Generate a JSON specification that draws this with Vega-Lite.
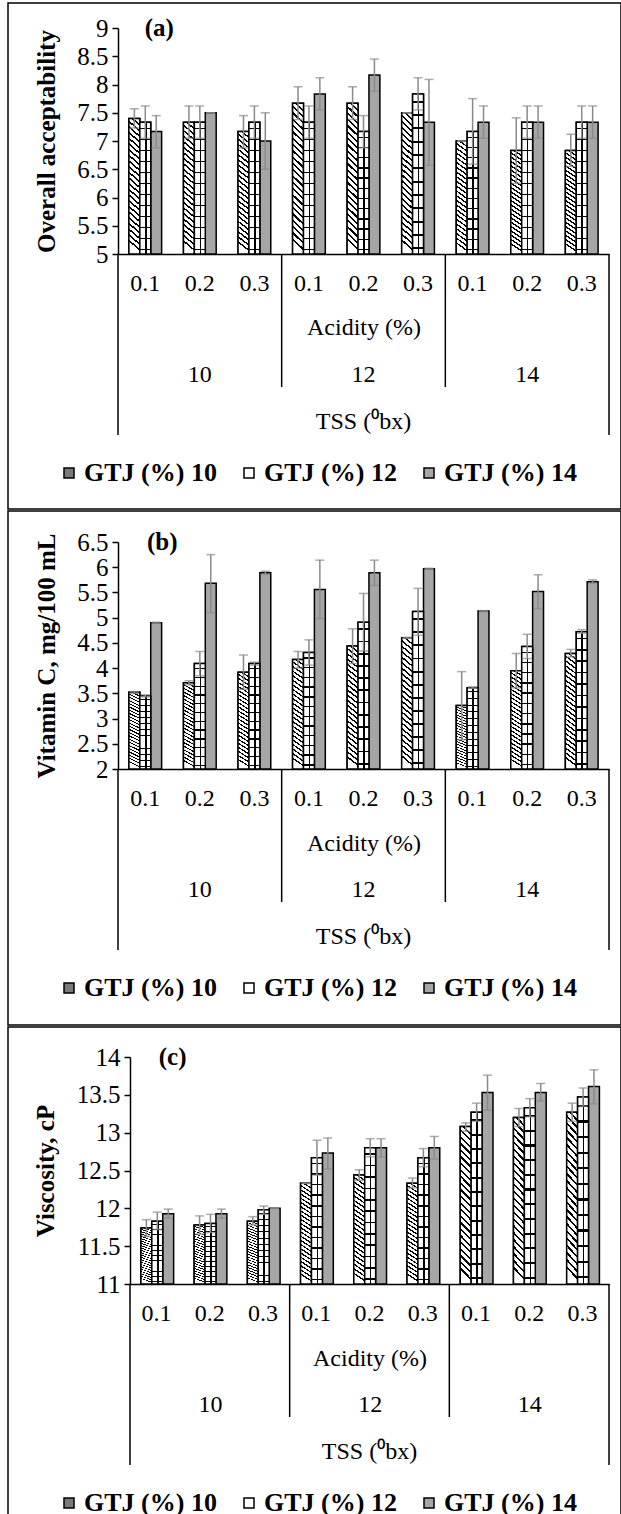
{
"$schema": "https://vega.github.io/schema/vega-lite/v6.json",
"background": "white",
"padding": {"left": 7, "top": 2, "right": 0, "bottom": 0},
"spacing": 0,
"config": {
 "view": {"stroke": "#000", "strokeWidth": 1.5},
 "font": "Liberation Serif",
 "axis": {"labelFont": "Liberation Serif", "labelFontSize": 24, "labelColor": "#000", "titleFont": "Liberation Serif", "titleFontSize": 24, "titleColor": "#000", "titleFontWeight": "normal", "domainColor": "#000", "domainWidth": 1.5, "tickColor": "#000", "tickWidth": 1.5, "grid": false, "labelOverlap": false},
 "legend": {"labelFont": "Liberation Serif", "labelColor": "#000"},
 "text": {"font": "Liberation Serif", "fontSize": 24, "color": "#000", "baseline": "middle"}
},
"datasets": {
 "A": [
{"c":"10-0.1","t":"10","g":"10","v":7.40,"lo":7.23,"hi":7.57},
{"c":"10-0.1","t":"10","g":"12","v":7.33,"lo":7.05,"hi":7.62},
{"c":"10-0.1","t":"10","g":"14","v":7.17,"lo":6.88,"hi":7.45},
{"c":"10-0.2","t":"10","g":"10","v":7.33,"lo":7.05,"hi":7.62},
{"c":"10-0.2","t":"10","g":"12","v":7.33,"lo":7.05,"hi":7.62},
{"c":"10-0.2","t":"10","g":"14","v":7.50,"lo":7.50,"hi":7.50},
{"c":"10-0.3","t":"10","g":"10","v":7.17,"lo":6.88,"hi":7.45},
{"c":"10-0.3","t":"10","g":"12","v":7.33,"lo":7.05,"hi":7.62},
{"c":"10-0.3","t":"10","g":"14","v":7.00,"lo":6.50,"hi":7.50},
{"c":"12-0.1","t":"12","g":"10","v":7.67,"lo":7.38,"hi":7.96},
{"c":"12-0.1","t":"12","g":"12","v":7.33,"lo":7.05,"hi":7.62},
{"c":"12-0.1","t":"12","g":"14","v":7.83,"lo":7.55,"hi":8.12},
{"c":"12-0.2","t":"12","g":"10","v":7.67,"lo":7.38,"hi":7.96},
{"c":"12-0.2","t":"12","g":"12","v":7.17,"lo":6.88,"hi":7.45},
{"c":"12-0.2","t":"12","g":"14","v":8.17,"lo":7.88,"hi":8.45},
{"c":"12-0.3","t":"12","g":"10","v":7.50,"lo":7.50,"hi":7.50},
{"c":"12-0.3","t":"12","g":"12","v":7.83,"lo":7.55,"hi":8.12},
{"c":"12-0.3","t":"12","g":"14","v":7.33,"lo":6.57,"hi":8.09},
{"c":"14-0.1","t":"14","g":"10","v":7.00,"lo":7.00,"hi":7.00},
{"c":"14-0.1","t":"14","g":"12","v":7.17,"lo":6.59,"hi":7.75},
{"c":"14-0.1","t":"14","g":"14","v":7.33,"lo":7.05,"hi":7.62},
{"c":"14-0.2","t":"14","g":"10","v":6.83,"lo":6.25,"hi":7.41},
{"c":"14-0.2","t":"14","g":"12","v":7.33,"lo":7.05,"hi":7.62},
{"c":"14-0.2","t":"14","g":"14","v":7.33,"lo":7.05,"hi":7.62},
{"c":"14-0.3","t":"14","g":"10","v":6.83,"lo":6.55,"hi":7.12},
{"c":"14-0.3","t":"14","g":"12","v":7.33,"lo":7.05,"hi":7.62},
{"c":"14-0.3","t":"14","g":"14","v":7.33,"lo":7.05,"hi":7.62}
 ],
 "B": [
{"c":"10-0.1","t":"10","g":"10","v":3.52,"lo":3.50,"hi":3.53},
{"c":"10-0.1","t":"10","g":"12","v":3.45,"lo":3.43,"hi":3.47},
{"c":"10-0.1","t":"10","g":"14","v":4.90,"lo":4.89,"hi":4.91},
{"c":"10-0.2","t":"10","g":"10","v":3.71,"lo":3.67,"hi":3.75},
{"c":"10-0.2","t":"10","g":"12","v":4.09,"lo":3.85,"hi":4.33},
{"c":"10-0.2","t":"10","g":"14","v":5.68,"lo":5.10,"hi":6.25},
{"c":"10-0.3","t":"10","g":"10","v":3.92,"lo":3.58,"hi":4.26},
{"c":"10-0.3","t":"10","g":"12","v":4.09,"lo":4.06,"hi":4.12},
{"c":"10-0.3","t":"10","g":"14","v":5.89,"lo":5.86,"hi":5.92},
{"c":"12-0.1","t":"12","g":"10","v":4.17,"lo":4.00,"hi":4.33},
{"c":"12-0.1","t":"12","g":"12","v":4.31,"lo":4.06,"hi":4.56},
{"c":"12-0.1","t":"12","g":"14","v":5.56,"lo":4.98,"hi":6.14},
{"c":"12-0.2","t":"12","g":"10","v":4.44,"lo":4.09,"hi":4.78},
{"c":"12-0.2","t":"12","g":"12","v":4.91,"lo":4.34,"hi":5.48},
{"c":"12-0.2","t":"12","g":"14","v":5.89,"lo":5.64,"hi":6.14},
{"c":"12-0.3","t":"12","g":"10","v":4.60,"lo":4.59,"hi":4.61},
{"c":"12-0.3","t":"12","g":"12","v":5.12,"lo":4.65,"hi":5.58},
{"c":"12-0.3","t":"12","g":"14","v":5.97,"lo":5.96,"hi":5.98},
{"c":"14-0.1","t":"14","g":"10","v":3.26,"lo":2.58,"hi":3.93},
{"c":"14-0.1","t":"14","g":"12","v":3.61,"lo":3.60,"hi":3.63},
{"c":"14-0.1","t":"14","g":"14","v":5.13,"lo":5.12,"hi":5.14},
{"c":"14-0.2","t":"14","g":"10","v":3.95,"lo":3.61,"hi":4.29},
{"c":"14-0.2","t":"14","g":"12","v":4.43,"lo":4.19,"hi":4.67},
{"c":"14-0.2","t":"14","g":"14","v":5.52,"lo":5.18,"hi":5.85},
{"c":"14-0.3","t":"14","g":"10","v":4.29,"lo":4.22,"hi":4.37},
{"c":"14-0.3","t":"14","g":"12","v":4.72,"lo":4.69,"hi":4.76},
{"c":"14-0.3","t":"14","g":"14","v":5.71,"lo":5.68,"hi":5.75}
 ],
 "C": [
{"c":"10-0.1","t":"10","g":"10","v":11.74,"lo":11.63,"hi":11.85},
{"c":"10-0.1","t":"10","g":"12","v":11.83,"lo":11.72,"hi":11.95},
{"c":"10-0.1","t":"10","g":"14","v":11.93,"lo":11.87,"hi":11.99},
{"c":"10-0.2","t":"10","g":"10","v":11.78,"lo":11.66,"hi":11.90},
{"c":"10-0.2","t":"10","g":"12","v":11.80,"lo":11.68,"hi":11.92},
{"c":"10-0.2","t":"10","g":"14","v":11.93,"lo":11.87,"hi":11.99},
{"c":"10-0.3","t":"10","g":"10","v":11.83,"lo":11.78,"hi":11.89},
{"c":"10-0.3","t":"10","g":"12","v":11.98,"lo":11.92,"hi":12.03},
{"c":"10-0.3","t":"10","g":"14","v":12.00,"lo":12.00,"hi":12.00},
{"c":"12-0.1","t":"12","g":"10","v":12.33,"lo":12.33,"hi":12.33},
{"c":"12-0.1","t":"12","g":"12","v":12.67,"lo":12.44,"hi":12.90},
{"c":"12-0.1","t":"12","g":"14","v":12.73,"lo":12.52,"hi":12.93},
{"c":"12-0.2","t":"12","g":"10","v":12.44,"lo":12.37,"hi":12.51},
{"c":"12-0.2","t":"12","g":"12","v":12.80,"lo":12.68,"hi":12.92},
{"c":"12-0.2","t":"12","g":"14","v":12.80,"lo":12.68,"hi":12.92},
{"c":"12-0.3","t":"12","g":"10","v":12.33,"lo":12.27,"hi":12.40},
{"c":"12-0.3","t":"12","g":"12","v":12.67,"lo":12.55,"hi":12.79},
{"c":"12-0.3","t":"12","g":"14","v":12.80,"lo":12.65,"hi":12.95},
{"c":"14-0.1","t":"14","g":"10","v":13.08,"lo":13.02,"hi":13.13},
{"c":"14-0.1","t":"14","g":"12","v":13.27,"lo":13.15,"hi":13.39},
{"c":"14-0.1","t":"14","g":"14","v":13.53,"lo":13.30,"hi":13.76},
{"c":"14-0.2","t":"14","g":"10","v":13.20,"lo":13.08,"hi":13.32},
{"c":"14-0.2","t":"14","g":"12","v":13.33,"lo":13.21,"hi":13.45},
{"c":"14-0.2","t":"14","g":"14","v":13.53,"lo":13.42,"hi":13.65},
{"c":"14-0.3","t":"14","g":"10","v":13.27,"lo":13.15,"hi":13.39},
{"c":"14-0.3","t":"14","g":"12","v":13.47,"lo":13.35,"hi":13.59},
{"c":"14-0.3","t":"14","g":"14","v":13.61,"lo":13.38,"hi":13.83}
 ]
},
"resolve": {"scale": {"fill": "independent"}, "legend": {"fill": "independent"}},
"vconcat": [
 {
  "width": 613, "height": 506,
  "data": {"name": "A"},
  "encoding": {
   "x": {"field": "c", "type": "nominal", "scale": {"domain": ["10-0.1","10-0.2","10-0.3","12-0.1","12-0.2","12-0.3","14-0.1","14-0.2","14-0.3"], "range": [110, 601], "paddingInner": 0, "paddingOuter": 0},
    "axis": {"orient": "bottom", "offset": -255, "domain": true, "ticks": false, "labelExpr": "split(datum.label, '-')[1]", "labelPadding": 29.5, "labelBaseline": "middle", "labelAngle": 0, "title": "Acidity (%)", "titleY": 73, "titleBaseline": "middle"}}
  },
  "layer": [
     {"mark": {"type": "bar", "stroke": "#000", "strokeWidth": 1.5},
      "encoding": {
       "xOffset": {"field": "g", "type": "nominal", "scale": {"domain": ["10","12","14"], "paddingInner": 0, "paddingOuter": 1.5}},
       "y": {"field": "v", "type": "quantitative", "title": "Overall acceptability", "scale": {"domain": [5, 9], "range": [251, 25], "nice": false, "zero": false},
        "axis": {"orient": "left", "offset": -110, "values": [5,5.5,6,6.5,7,7.5,8,8.5,9], "format": ".1~f", "tickSize": 6, "labelPadding": 4, "labelFontSize": 25, "labelFlush": false, "labelOverlap": false, "titleFontSize": 25, "titleFontWeight": "bold", "titleX": -72, "titleY": 138, "titleAngle": -90, "titleBaseline": "middle", "titleAlign": "center"}},
       "y2": {"datum": 5},
       "fill": {"field": "g", "type": "nominal", "scale": {"domain": ["10","12","14"], "range": ["#7a7a7a","#ffffff","#a6a6a6"]},
        "legend": {"orient": "none", "legendX": 48, "legendY": 457, "direction": "horizontal", "title": null, "symbolType": "square", "symbolSize": 100, "symbolStrokeColor": "#000", "symbolStrokeWidth": 1.5, "labelFontSize": 26, "labelFontWeight": "bold", "labelExpr": "'GTJ (%) ' + datum.label", "labelOffset": 2, "columnPadding": 19, "labelLimit": 0, "padding": 0}}
      }},
     {"transform": [{"filter": "datum.g == '10'"}], "mark": {"type": "bar", "stroke": "#000", "strokeWidth": 1.5, "fill": {"gradient": "linear", "x1": 1, "y1": 0, "x2": 0.93, "y2": 1, "stops": [
{"offset":0,"color":"#000"},{"offset":0.0146,"color":"#000"},{"offset":0.0146,"color":"#fff"},{"offset":0.0417,"color":"#fff"},
{"offset":0.0417,"color":"#000"},{"offset":0.0563,"color":"#000"},{"offset":0.0563,"color":"#fff"},{"offset":0.0833,"color":"#fff"},
{"offset":0.0833,"color":"#000"},{"offset":0.0979,"color":"#000"},{"offset":0.0979,"color":"#fff"},{"offset":0.125,"color":"#fff"},
{"offset":0.125,"color":"#000"},{"offset":0.1396,"color":"#000"},{"offset":0.1396,"color":"#fff"},{"offset":0.1667,"color":"#fff"},
{"offset":0.1667,"color":"#000"},{"offset":0.1813,"color":"#000"},{"offset":0.1813,"color":"#fff"},{"offset":0.2083,"color":"#fff"},
{"offset":0.2083,"color":"#000"},{"offset":0.2229,"color":"#000"},{"offset":0.2229,"color":"#fff"},{"offset":0.25,"color":"#fff"},
{"offset":0.25,"color":"#000"},{"offset":0.2646,"color":"#000"},{"offset":0.2646,"color":"#fff"},{"offset":0.2917,"color":"#fff"},
{"offset":0.2917,"color":"#000"},{"offset":0.3063,"color":"#000"},{"offset":0.3063,"color":"#fff"},{"offset":0.3333,"color":"#fff"},
{"offset":0.3333,"color":"#000"},{"offset":0.3479,"color":"#000"},{"offset":0.3479,"color":"#fff"},{"offset":0.375,"color":"#fff"},
{"offset":0.375,"color":"#000"},{"offset":0.3896,"color":"#000"},{"offset":0.3896,"color":"#fff"},{"offset":0.4167,"color":"#fff"},
{"offset":0.4167,"color":"#000"},{"offset":0.4313,"color":"#000"},{"offset":0.4313,"color":"#fff"},{"offset":0.4583,"color":"#fff"},
{"offset":0.4583,"color":"#000"},{"offset":0.4729,"color":"#000"},{"offset":0.4729,"color":"#fff"},{"offset":0.5,"color":"#fff"},
{"offset":0.5,"color":"#000"},{"offset":0.5146,"color":"#000"},{"offset":0.5146,"color":"#fff"},{"offset":0.5417,"color":"#fff"},
{"offset":0.5417,"color":"#000"},{"offset":0.5563,"color":"#000"},{"offset":0.5563,"color":"#fff"},{"offset":0.5833,"color":"#fff"},
{"offset":0.5833,"color":"#000"},{"offset":0.5979,"color":"#000"},{"offset":0.5979,"color":"#fff"},{"offset":0.625,"color":"#fff"},
{"offset":0.625,"color":"#000"},{"offset":0.6396,"color":"#000"},{"offset":0.6396,"color":"#fff"},{"offset":0.6667,"color":"#fff"},
{"offset":0.6667,"color":"#000"},{"offset":0.6813,"color":"#000"},{"offset":0.6813,"color":"#fff"},{"offset":0.7083,"color":"#fff"},
{"offset":0.7083,"color":"#000"},{"offset":0.7229,"color":"#000"},{"offset":0.7229,"color":"#fff"},{"offset":0.75,"color":"#fff"},
{"offset":0.75,"color":"#000"},{"offset":0.7646,"color":"#000"},{"offset":0.7646,"color":"#fff"},{"offset":0.7917,"color":"#fff"},
{"offset":0.7917,"color":"#000"},{"offset":0.8063,"color":"#000"},{"offset":0.8063,"color":"#fff"},{"offset":0.8333,"color":"#fff"},
{"offset":0.8333,"color":"#000"},{"offset":0.8479,"color":"#000"},{"offset":0.8479,"color":"#fff"},{"offset":0.875,"color":"#fff"},
{"offset":0.875,"color":"#000"},{"offset":0.8896,"color":"#000"},{"offset":0.8896,"color":"#fff"},{"offset":0.9167,"color":"#fff"},
{"offset":0.9167,"color":"#000"},{"offset":0.9313,"color":"#000"},{"offset":0.9313,"color":"#fff"},{"offset":0.9583,"color":"#fff"},
{"offset":0.9583,"color":"#000"},{"offset":0.9729,"color":"#000"},{"offset":0.9729,"color":"#fff"},{"offset":1,"color":"#fff"}
      ]}},
      "encoding": {"xOffset": {"field": "g", "type": "nominal"}, "y": {"field": "v", "type": "quantitative", "title": "Overall acceptability"}, "y2": {"datum": 5}}},
     {"transform": [{"filter": "datum.g == '12'"}], "mark": {"type": "bar", "stroke": "#000", "strokeWidth": 1.5, "fill": {"gradient": "linear", "x1": 0, "y1": 0, "x2": 0, "y2": 1, "stops": [
{"offset":0,"color":"#fff"},
{"offset":0.0417,"color":"#fff"},{"offset":0.0417,"color":"#000"},{"offset":0.0537,"color":"#000"},{"offset":0.0537,"color":"#fff"},
{"offset":0.125,"color":"#fff"},{"offset":0.125,"color":"#000"},{"offset":0.137,"color":"#000"},{"offset":0.137,"color":"#fff"},
{"offset":0.2083,"color":"#fff"},{"offset":0.2083,"color":"#000"},{"offset":0.2203,"color":"#000"},{"offset":0.2203,"color":"#fff"},
{"offset":0.2917,"color":"#fff"},{"offset":0.2917,"color":"#000"},{"offset":0.3037,"color":"#000"},{"offset":0.3037,"color":"#fff"},
{"offset":0.375,"color":"#fff"},{"offset":0.375,"color":"#000"},{"offset":0.387,"color":"#000"},{"offset":0.387,"color":"#fff"},
{"offset":0.4583,"color":"#fff"},{"offset":0.4583,"color":"#000"},{"offset":0.4703,"color":"#000"},{"offset":0.4703,"color":"#fff"},
{"offset":0.5417,"color":"#fff"},{"offset":0.5417,"color":"#000"},{"offset":0.5537,"color":"#000"},{"offset":0.5537,"color":"#fff"},
{"offset":0.625,"color":"#fff"},{"offset":0.625,"color":"#000"},{"offset":0.637,"color":"#000"},{"offset":0.637,"color":"#fff"},
{"offset":0.7083,"color":"#fff"},{"offset":0.7083,"color":"#000"},{"offset":0.7203,"color":"#000"},{"offset":0.7203,"color":"#fff"},
{"offset":0.7917,"color":"#fff"},{"offset":0.7917,"color":"#000"},{"offset":0.8037,"color":"#000"},{"offset":0.8037,"color":"#fff"},
{"offset":0.875,"color":"#fff"},{"offset":0.875,"color":"#000"},{"offset":0.887,"color":"#000"},{"offset":0.887,"color":"#fff"},
{"offset":0.9583,"color":"#fff"},{"offset":0.9583,"color":"#000"},{"offset":0.9703,"color":"#000"},{"offset":0.9703,"color":"#fff"},
{"offset":1,"color":"#fff"}
      ]}},
      "encoding": {"xOffset": {"field": "g", "type": "nominal"}, "y": {"field": "v", "type": "quantitative", "title": "Overall acceptability"}, "y2": {"datum": 5}}},
     {"transform": [{"filter": "datum.g == '12'"}], "mark": {"type": "bar", "fill": {"gradient": "linear", "x1": 0, "y1": 0, "x2": 1, "y2": 0, "stops": [
{"offset":0,"color":"rgba(0,0,0,0)"},{"offset":0.47,"color":"rgba(0,0,0,0)"},{"offset":0.47,"color":"#000"},{"offset":0.62,"color":"#000"},{"offset":0.62,"color":"rgba(0,0,0,0)"},{"offset":1,"color":"rgba(0,0,0,0)"}
      ]}},
      "encoding": {"xOffset": {"field": "g", "type": "nominal"}, "y": {"field": "v", "type": "quantitative", "title": "Overall acceptability"}, "y2": {"datum": 5}}},
     {"mark": {"type": "rule", "color": "#8a8a8a", "strokeWidth": 1.5},
      "encoding": {"xOffset": {"field": "g", "type": "nominal"}, "y": {"field": "lo", "type": "quantitative", "title": "Overall acceptability"}, "y2": {"field": "hi"}}},
     {"mark": {"type": "tick", "orient": "horizontal", "size": 9, "thickness": 1.5, "color": "#8a8a8a"},
      "encoding": {"xOffset": {"field": "g", "type": "nominal"}, "y": {"field": "lo", "type": "quantitative", "title": "Overall acceptability"}}},
     {"mark": {"type": "tick", "orient": "horizontal", "size": 9, "thickness": 1.5, "color": "#8a8a8a"},
      "encoding": {"xOffset": {"field": "g", "type": "nominal"}, "y": {"field": "hi", "type": "quantitative", "title": "Overall acceptability"}}},
     {"transform": [{"filter": "datum.g == '10' && (datum.c == '12-0.1' || datum.c == '14-0.1')"}], "mark": {"type": "rule", "color": "#000", "strokeWidth": 1.5, "y2Offset": 133},
      "encoding": {"x": {"field": "c", "type": "nominal", "bandPosition": 0}, "y": {"datum": 5}, "y2": {"datum": 5}}},
     {"transform": [{"filter": "datum.g == '10' && datum.c == '10-0.1'"}], "mark": {"type": "rule", "color": "#000", "strokeWidth": 1.5, "y2Offset": 181},
      "encoding": {"x": {"field": "c", "type": "nominal", "bandPosition": 0}, "y": {"datum": 5}, "y2": {"datum": 5}}},
     {"transform": [{"filter": "datum.g == '10' && datum.c == '14-0.3'"}], "mark": {"type": "rule", "color": "#000", "strokeWidth": 1.5, "y2Offset": 181},
      "encoding": {"x": {"field": "c", "type": "nominal", "bandPosition": 1}, "y": {"datum": 5}, "y2": {"datum": 5}}},
     {"transform": [{"filter": "datum.g == '12' && indexof(datum.c, '-0.2') > 0"}], "mark": {"type": "text", "dy": 121},
      "encoding": {"xOffset": {"field": "g", "type": "nominal"}, "y": {"datum": 5}, "text": {"field": "t"}}},
     {"data": {"values": [{"s": "TSS (⁰bx)"}]}, "mark": {"type": "text", "dy": 168},
      "encoding": {"x": {"datum": "12-0.2"}, "y": {"datum": 5}, "text": {"field": "s"}}},
     {"data": {"values": [{"s": "(a)"}]}, "mark": {"type": "text", "dx": 14, "fontSize": 25, "fontWeight": "bold"},
      "encoding": {"x": {"datum": "10-0.1"}, "y": {"datum": 9}, "text": {"field": "s"}}}
  ]
 },
 {
  "width": 613, "height": 514,
  "data": {"name": "B"},
  "encoding": {
   "x": {"field": "c", "type": "nominal", "scale": {"domain": ["10-0.1","10-0.2","10-0.3","12-0.1","12-0.2","12-0.3","14-0.1","14-0.2","14-0.3"], "range": [110, 601], "paddingInner": 0, "paddingOuter": 0},
    "axis": {"orient": "bottom", "offset": -256, "domain": true, "ticks": false, "labelExpr": "split(datum.label, '-')[1]", "labelPadding": 29.5, "labelBaseline": "middle", "labelAngle": 0, "title": "Acidity (%)", "titleY": 74, "titleBaseline": "middle"}}
  },
  "layer": [
     {"mark": {"type": "bar", "stroke": "#000", "strokeWidth": 1.5},
      "encoding": {
       "xOffset": {"field": "g", "type": "nominal", "scale": {"domain": ["10","12","14"], "paddingInner": 0, "paddingOuter": 1.5}},
       "y": {"field": "v", "type": "quantitative", "title": "Vitamin  C, mg/100 mL", "scale": {"domain": [2, 6.5], "range": [258, 31], "nice": false, "zero": false},
        "axis": {"orient": "left", "offset": -110, "values": [2,2.5,3,3.5,4,4.5,5,5.5,6,6.5], "format": ".1~f", "tickSize": 6, "labelPadding": 4, "labelFontSize": 25, "labelFlush": false, "labelOverlap": false, "titleFontSize": 25, "titleFontWeight": "bold", "titleX": -72, "titleY": 144.5, "titleAngle": -90, "titleBaseline": "middle", "titleAlign": "center"}},
       "y2": {"datum": 2},
       "fill": {"field": "g", "type": "nominal", "scale": {"domain": ["10","12","14"], "range": ["#7a7a7a","#ffffff","#a6a6a6"]},
        "legend": {"orient": "none", "legendX": 48, "legendY": 464, "direction": "horizontal", "title": null, "symbolType": "square", "symbolSize": 100, "symbolStrokeColor": "#000", "symbolStrokeWidth": 1.5, "labelFontSize": 26, "labelFontWeight": "bold", "labelExpr": "'GTJ (%) ' + datum.label", "labelOffset": 2, "columnPadding": 19, "labelLimit": 0, "padding": 0}}
      }},
     {"transform": [{"filter": "datum.g == '10'"}], "mark": {"type": "bar", "stroke": "#000", "strokeWidth": 1.5, "fill": {"gradient": "linear", "x1": 1, "y1": 0, "x2": 0.93, "y2": 1, "stops": [
{"offset":0,"color":"#000"},{"offset":0.0146,"color":"#000"},{"offset":0.0146,"color":"#fff"},{"offset":0.0417,"color":"#fff"},
{"offset":0.0417,"color":"#000"},{"offset":0.0563,"color":"#000"},{"offset":0.0563,"color":"#fff"},{"offset":0.0833,"color":"#fff"},
{"offset":0.0833,"color":"#000"},{"offset":0.0979,"color":"#000"},{"offset":0.0979,"color":"#fff"},{"offset":0.125,"color":"#fff"},
{"offset":0.125,"color":"#000"},{"offset":0.1396,"color":"#000"},{"offset":0.1396,"color":"#fff"},{"offset":0.1667,"color":"#fff"},
{"offset":0.1667,"color":"#000"},{"offset":0.1813,"color":"#000"},{"offset":0.1813,"color":"#fff"},{"offset":0.2083,"color":"#fff"},
{"offset":0.2083,"color":"#000"},{"offset":0.2229,"color":"#000"},{"offset":0.2229,"color":"#fff"},{"offset":0.25,"color":"#fff"},
{"offset":0.25,"color":"#000"},{"offset":0.2646,"color":"#000"},{"offset":0.2646,"color":"#fff"},{"offset":0.2917,"color":"#fff"},
{"offset":0.2917,"color":"#000"},{"offset":0.3063,"color":"#000"},{"offset":0.3063,"color":"#fff"},{"offset":0.3333,"color":"#fff"},
{"offset":0.3333,"color":"#000"},{"offset":0.3479,"color":"#000"},{"offset":0.3479,"color":"#fff"},{"offset":0.375,"color":"#fff"},
{"offset":0.375,"color":"#000"},{"offset":0.3896,"color":"#000"},{"offset":0.3896,"color":"#fff"},{"offset":0.4167,"color":"#fff"},
{"offset":0.4167,"color":"#000"},{"offset":0.4313,"color":"#000"},{"offset":0.4313,"color":"#fff"},{"offset":0.4583,"color":"#fff"},
{"offset":0.4583,"color":"#000"},{"offset":0.4729,"color":"#000"},{"offset":0.4729,"color":"#fff"},{"offset":0.5,"color":"#fff"},
{"offset":0.5,"color":"#000"},{"offset":0.5146,"color":"#000"},{"offset":0.5146,"color":"#fff"},{"offset":0.5417,"color":"#fff"},
{"offset":0.5417,"color":"#000"},{"offset":0.5563,"color":"#000"},{"offset":0.5563,"color":"#fff"},{"offset":0.5833,"color":"#fff"},
{"offset":0.5833,"color":"#000"},{"offset":0.5979,"color":"#000"},{"offset":0.5979,"color":"#fff"},{"offset":0.625,"color":"#fff"},
{"offset":0.625,"color":"#000"},{"offset":0.6396,"color":"#000"},{"offset":0.6396,"color":"#fff"},{"offset":0.6667,"color":"#fff"},
{"offset":0.6667,"color":"#000"},{"offset":0.6813,"color":"#000"},{"offset":0.6813,"color":"#fff"},{"offset":0.7083,"color":"#fff"},
{"offset":0.7083,"color":"#000"},{"offset":0.7229,"color":"#000"},{"offset":0.7229,"color":"#fff"},{"offset":0.75,"color":"#fff"},
{"offset":0.75,"color":"#000"},{"offset":0.7646,"color":"#000"},{"offset":0.7646,"color":"#fff"},{"offset":0.7917,"color":"#fff"},
{"offset":0.7917,"color":"#000"},{"offset":0.8063,"color":"#000"},{"offset":0.8063,"color":"#fff"},{"offset":0.8333,"color":"#fff"},
{"offset":0.8333,"color":"#000"},{"offset":0.8479,"color":"#000"},{"offset":0.8479,"color":"#fff"},{"offset":0.875,"color":"#fff"},
{"offset":0.875,"color":"#000"},{"offset":0.8896,"color":"#000"},{"offset":0.8896,"color":"#fff"},{"offset":0.9167,"color":"#fff"},
{"offset":0.9167,"color":"#000"},{"offset":0.9313,"color":"#000"},{"offset":0.9313,"color":"#fff"},{"offset":0.9583,"color":"#fff"},
{"offset":0.9583,"color":"#000"},{"offset":0.9729,"color":"#000"},{"offset":0.9729,"color":"#fff"},{"offset":1,"color":"#fff"}
      ]}},
      "encoding": {"xOffset": {"field": "g", "type": "nominal"}, "y": {"field": "v", "type": "quantitative", "title": "Vitamin  C, mg/100 mL"}, "y2": {"datum": 2}}},
     {"transform": [{"filter": "datum.g == '12'"}], "mark": {"type": "bar", "stroke": "#000", "strokeWidth": 1.5, "fill": {"gradient": "linear", "x1": 0, "y1": 0, "x2": 0, "y2": 1, "stops": [
{"offset":0,"color":"#fff"},
{"offset":0.0417,"color":"#fff"},{"offset":0.0417,"color":"#000"},{"offset":0.0537,"color":"#000"},{"offset":0.0537,"color":"#fff"},
{"offset":0.125,"color":"#fff"},{"offset":0.125,"color":"#000"},{"offset":0.137,"color":"#000"},{"offset":0.137,"color":"#fff"},
{"offset":0.2083,"color":"#fff"},{"offset":0.2083,"color":"#000"},{"offset":0.2203,"color":"#000"},{"offset":0.2203,"color":"#fff"},
{"offset":0.2917,"color":"#fff"},{"offset":0.2917,"color":"#000"},{"offset":0.3037,"color":"#000"},{"offset":0.3037,"color":"#fff"},
{"offset":0.375,"color":"#fff"},{"offset":0.375,"color":"#000"},{"offset":0.387,"color":"#000"},{"offset":0.387,"color":"#fff"},
{"offset":0.4583,"color":"#fff"},{"offset":0.4583,"color":"#000"},{"offset":0.4703,"color":"#000"},{"offset":0.4703,"color":"#fff"},
{"offset":0.5417,"color":"#fff"},{"offset":0.5417,"color":"#000"},{"offset":0.5537,"color":"#000"},{"offset":0.5537,"color":"#fff"},
{"offset":0.625,"color":"#fff"},{"offset":0.625,"color":"#000"},{"offset":0.637,"color":"#000"},{"offset":0.637,"color":"#fff"},
{"offset":0.7083,"color":"#fff"},{"offset":0.7083,"color":"#000"},{"offset":0.7203,"color":"#000"},{"offset":0.7203,"color":"#fff"},
{"offset":0.7917,"color":"#fff"},{"offset":0.7917,"color":"#000"},{"offset":0.8037,"color":"#000"},{"offset":0.8037,"color":"#fff"},
{"offset":0.875,"color":"#fff"},{"offset":0.875,"color":"#000"},{"offset":0.887,"color":"#000"},{"offset":0.887,"color":"#fff"},
{"offset":0.9583,"color":"#fff"},{"offset":0.9583,"color":"#000"},{"offset":0.9703,"color":"#000"},{"offset":0.9703,"color":"#fff"},
{"offset":1,"color":"#fff"}
      ]}},
      "encoding": {"xOffset": {"field": "g", "type": "nominal"}, "y": {"field": "v", "type": "quantitative", "title": "Vitamin  C, mg/100 mL"}, "y2": {"datum": 2}}},
     {"transform": [{"filter": "datum.g == '12'"}], "mark": {"type": "bar", "fill": {"gradient": "linear", "x1": 0, "y1": 0, "x2": 1, "y2": 0, "stops": [
{"offset":0,"color":"rgba(0,0,0,0)"},{"offset":0.47,"color":"rgba(0,0,0,0)"},{"offset":0.47,"color":"#000"},{"offset":0.62,"color":"#000"},{"offset":0.62,"color":"rgba(0,0,0,0)"},{"offset":1,"color":"rgba(0,0,0,0)"}
      ]}},
      "encoding": {"xOffset": {"field": "g", "type": "nominal"}, "y": {"field": "v", "type": "quantitative", "title": "Vitamin  C, mg/100 mL"}, "y2": {"datum": 2}}},
     {"mark": {"type": "rule", "color": "#8a8a8a", "strokeWidth": 1.5},
      "encoding": {"xOffset": {"field": "g", "type": "nominal"}, "y": {"field": "lo", "type": "quantitative", "title": "Vitamin  C, mg/100 mL"}, "y2": {"field": "hi"}}},
     {"mark": {"type": "tick", "orient": "horizontal", "size": 9, "thickness": 1.5, "color": "#8a8a8a"},
      "encoding": {"xOffset": {"field": "g", "type": "nominal"}, "y": {"field": "lo", "type": "quantitative", "title": "Vitamin  C, mg/100 mL"}}},
     {"mark": {"type": "tick", "orient": "horizontal", "size": 9, "thickness": 1.5, "color": "#8a8a8a"},
      "encoding": {"xOffset": {"field": "g", "type": "nominal"}, "y": {"field": "hi", "type": "quantitative", "title": "Vitamin  C, mg/100 mL"}}},
     {"transform": [{"filter": "datum.g == '10' && (datum.c == '12-0.1' || datum.c == '14-0.1')"}], "mark": {"type": "rule", "color": "#000", "strokeWidth": 1.5, "y2Offset": 133},
      "encoding": {"x": {"field": "c", "type": "nominal", "bandPosition": 0}, "y": {"datum": 2}, "y2": {"datum": 2}}},
     {"transform": [{"filter": "datum.g == '10' && datum.c == '10-0.1'"}], "mark": {"type": "rule", "color": "#000", "strokeWidth": 1.5, "y2Offset": 181},
      "encoding": {"x": {"field": "c", "type": "nominal", "bandPosition": 0}, "y": {"datum": 2}, "y2": {"datum": 2}}},
     {"transform": [{"filter": "datum.g == '10' && datum.c == '14-0.3'"}], "mark": {"type": "rule", "color": "#000", "strokeWidth": 1.5, "y2Offset": 181},
      "encoding": {"x": {"field": "c", "type": "nominal", "bandPosition": 1}, "y": {"datum": 2}, "y2": {"datum": 2}}},
     {"transform": [{"filter": "datum.g == '12' && indexof(datum.c, '-0.2') > 0"}], "mark": {"type": "text", "dy": 121},
      "encoding": {"xOffset": {"field": "g", "type": "nominal"}, "y": {"datum": 2}, "text": {"field": "t"}}},
     {"data": {"values": [{"s": "TSS (⁰bx)"}]}, "mark": {"type": "text", "dy": 168},
      "encoding": {"x": {"datum": "12-0.2"}, "y": {"datum": 2}, "text": {"field": "s"}}},
     {"data": {"values": [{"s": "(b)"}]}, "mark": {"type": "text", "dx": 17, "fontSize": 25, "fontWeight": "bold"},
      "encoding": {"x": {"datum": "10-0.1"}, "y": {"datum": 6.5}, "text": {"field": "s"}}}
  ]
 },
 {
  "width": 613, "height": 514,
  "data": {"name": "C"},
  "encoding": {
   "x": {"field": "c", "type": "nominal", "scale": {"domain": ["10-0.1","10-0.2","10-0.3","12-0.1","12-0.2","12-0.3","14-0.1","14-0.2","14-0.3"], "range": [122, 601], "paddingInner": 0, "paddingOuter": 0},
    "axis": {"orient": "bottom", "offset": -257, "domain": true, "ticks": false, "labelExpr": "split(datum.label, '-')[1]", "labelPadding": 29.5, "labelBaseline": "middle", "labelAngle": 0, "title": "Acidity (%)", "titleY": 74, "titleBaseline": "middle"}}
  },
  "layer": [
     {"mark": {"type": "bar", "stroke": "#000", "strokeWidth": 1.5},
      "encoding": {
       "xOffset": {"field": "g", "type": "nominal", "scale": {"domain": ["10","12","14"], "paddingInner": 0, "paddingOuter": 1.5}},
       "y": {"field": "v", "type": "quantitative", "title": "Viscosity, cP", "scale": {"domain": [11, 14], "range": [257, 30], "nice": false, "zero": false},
        "axis": {"orient": "left", "offset": -122, "values": [11,11.5,12,12.5,13,13.5,14], "format": ".1~f", "tickSize": 6, "labelPadding": 4, "labelFontSize": 25, "labelFlush": false, "labelOverlap": false, "titleFontSize": 25, "titleFontWeight": "bold", "titleX": -85, "titleY": 143.5, "titleAngle": -90, "titleBaseline": "middle", "titleAlign": "center"}},
       "y2": {"datum": 11},
       "fill": {"field": "g", "type": "nominal", "scale": {"domain": ["10","12","14"], "range": ["#7a7a7a","#ffffff","#a6a6a6"]},
        "legend": {"orient": "none", "legendX": 48, "legendY": 463, "direction": "horizontal", "title": null, "symbolType": "square", "symbolSize": 100, "symbolStrokeColor": "#000", "symbolStrokeWidth": 1.5, "labelFontSize": 26, "labelFontWeight": "bold", "labelExpr": "'GTJ (%) ' + datum.label", "labelOffset": 2, "columnPadding": 19, "labelLimit": 0, "padding": 0}}
      }},
     {"transform": [{"filter": "datum.g == '10'"}], "mark": {"type": "bar", "stroke": "#000", "strokeWidth": 1.5, "fill": {"gradient": "linear", "x1": 1, "y1": 0, "x2": 0.93, "y2": 1, "stops": [
{"offset":0,"color":"#000"},{"offset":0.0146,"color":"#000"},{"offset":0.0146,"color":"#fff"},{"offset":0.0417,"color":"#fff"},
{"offset":0.0417,"color":"#000"},{"offset":0.0563,"color":"#000"},{"offset":0.0563,"color":"#fff"},{"offset":0.0833,"color":"#fff"},
{"offset":0.0833,"color":"#000"},{"offset":0.0979,"color":"#000"},{"offset":0.0979,"color":"#fff"},{"offset":0.125,"color":"#fff"},
{"offset":0.125,"color":"#000"},{"offset":0.1396,"color":"#000"},{"offset":0.1396,"color":"#fff"},{"offset":0.1667,"color":"#fff"},
{"offset":0.1667,"color":"#000"},{"offset":0.1813,"color":"#000"},{"offset":0.1813,"color":"#fff"},{"offset":0.2083,"color":"#fff"},
{"offset":0.2083,"color":"#000"},{"offset":0.2229,"color":"#000"},{"offset":0.2229,"color":"#fff"},{"offset":0.25,"color":"#fff"},
{"offset":0.25,"color":"#000"},{"offset":0.2646,"color":"#000"},{"offset":0.2646,"color":"#fff"},{"offset":0.2917,"color":"#fff"},
{"offset":0.2917,"color":"#000"},{"offset":0.3063,"color":"#000"},{"offset":0.3063,"color":"#fff"},{"offset":0.3333,"color":"#fff"},
{"offset":0.3333,"color":"#000"},{"offset":0.3479,"color":"#000"},{"offset":0.3479,"color":"#fff"},{"offset":0.375,"color":"#fff"},
{"offset":0.375,"color":"#000"},{"offset":0.3896,"color":"#000"},{"offset":0.3896,"color":"#fff"},{"offset":0.4167,"color":"#fff"},
{"offset":0.4167,"color":"#000"},{"offset":0.4313,"color":"#000"},{"offset":0.4313,"color":"#fff"},{"offset":0.4583,"color":"#fff"},
{"offset":0.4583,"color":"#000"},{"offset":0.4729,"color":"#000"},{"offset":0.4729,"color":"#fff"},{"offset":0.5,"color":"#fff"},
{"offset":0.5,"color":"#000"},{"offset":0.5146,"color":"#000"},{"offset":0.5146,"color":"#fff"},{"offset":0.5417,"color":"#fff"},
{"offset":0.5417,"color":"#000"},{"offset":0.5563,"color":"#000"},{"offset":0.5563,"color":"#fff"},{"offset":0.5833,"color":"#fff"},
{"offset":0.5833,"color":"#000"},{"offset":0.5979,"color":"#000"},{"offset":0.5979,"color":"#fff"},{"offset":0.625,"color":"#fff"},
{"offset":0.625,"color":"#000"},{"offset":0.6396,"color":"#000"},{"offset":0.6396,"color":"#fff"},{"offset":0.6667,"color":"#fff"},
{"offset":0.6667,"color":"#000"},{"offset":0.6813,"color":"#000"},{"offset":0.6813,"color":"#fff"},{"offset":0.7083,"color":"#fff"},
{"offset":0.7083,"color":"#000"},{"offset":0.7229,"color":"#000"},{"offset":0.7229,"color":"#fff"},{"offset":0.75,"color":"#fff"},
{"offset":0.75,"color":"#000"},{"offset":0.7646,"color":"#000"},{"offset":0.7646,"color":"#fff"},{"offset":0.7917,"color":"#fff"},
{"offset":0.7917,"color":"#000"},{"offset":0.8063,"color":"#000"},{"offset":0.8063,"color":"#fff"},{"offset":0.8333,"color":"#fff"},
{"offset":0.8333,"color":"#000"},{"offset":0.8479,"color":"#000"},{"offset":0.8479,"color":"#fff"},{"offset":0.875,"color":"#fff"},
{"offset":0.875,"color":"#000"},{"offset":0.8896,"color":"#000"},{"offset":0.8896,"color":"#fff"},{"offset":0.9167,"color":"#fff"},
{"offset":0.9167,"color":"#000"},{"offset":0.9313,"color":"#000"},{"offset":0.9313,"color":"#fff"},{"offset":0.9583,"color":"#fff"},
{"offset":0.9583,"color":"#000"},{"offset":0.9729,"color":"#000"},{"offset":0.9729,"color":"#fff"},{"offset":1,"color":"#fff"}
      ]}},
      "encoding": {"xOffset": {"field": "g", "type": "nominal"}, "y": {"field": "v", "type": "quantitative", "title": "Viscosity, cP"}, "y2": {"datum": 11}}},
     {"transform": [{"filter": "datum.g == '12'"}], "mark": {"type": "bar", "stroke": "#000", "strokeWidth": 1.5, "fill": {"gradient": "linear", "x1": 0, "y1": 0, "x2": 0, "y2": 1, "stops": [
{"offset":0,"color":"#fff"},
{"offset":0.0417,"color":"#fff"},{"offset":0.0417,"color":"#000"},{"offset":0.0537,"color":"#000"},{"offset":0.0537,"color":"#fff"},
{"offset":0.125,"color":"#fff"},{"offset":0.125,"color":"#000"},{"offset":0.137,"color":"#000"},{"offset":0.137,"color":"#fff"},
{"offset":0.2083,"color":"#fff"},{"offset":0.2083,"color":"#000"},{"offset":0.2203,"color":"#000"},{"offset":0.2203,"color":"#fff"},
{"offset":0.2917,"color":"#fff"},{"offset":0.2917,"color":"#000"},{"offset":0.3037,"color":"#000"},{"offset":0.3037,"color":"#fff"},
{"offset":0.375,"color":"#fff"},{"offset":0.375,"color":"#000"},{"offset":0.387,"color":"#000"},{"offset":0.387,"color":"#fff"},
{"offset":0.4583,"color":"#fff"},{"offset":0.4583,"color":"#000"},{"offset":0.4703,"color":"#000"},{"offset":0.4703,"color":"#fff"},
{"offset":0.5417,"color":"#fff"},{"offset":0.5417,"color":"#000"},{"offset":0.5537,"color":"#000"},{"offset":0.5537,"color":"#fff"},
{"offset":0.625,"color":"#fff"},{"offset":0.625,"color":"#000"},{"offset":0.637,"color":"#000"},{"offset":0.637,"color":"#fff"},
{"offset":0.7083,"color":"#fff"},{"offset":0.7083,"color":"#000"},{"offset":0.7203,"color":"#000"},{"offset":0.7203,"color":"#fff"},
{"offset":0.7917,"color":"#fff"},{"offset":0.7917,"color":"#000"},{"offset":0.8037,"color":"#000"},{"offset":0.8037,"color":"#fff"},
{"offset":0.875,"color":"#fff"},{"offset":0.875,"color":"#000"},{"offset":0.887,"color":"#000"},{"offset":0.887,"color":"#fff"},
{"offset":0.9583,"color":"#fff"},{"offset":0.9583,"color":"#000"},{"offset":0.9703,"color":"#000"},{"offset":0.9703,"color":"#fff"},
{"offset":1,"color":"#fff"}
      ]}},
      "encoding": {"xOffset": {"field": "g", "type": "nominal"}, "y": {"field": "v", "type": "quantitative", "title": "Viscosity, cP"}, "y2": {"datum": 11}}},
     {"transform": [{"filter": "datum.g == '12'"}], "mark": {"type": "bar", "fill": {"gradient": "linear", "x1": 0, "y1": 0, "x2": 1, "y2": 0, "stops": [
{"offset":0,"color":"rgba(0,0,0,0)"},{"offset":0.47,"color":"rgba(0,0,0,0)"},{"offset":0.47,"color":"#000"},{"offset":0.62,"color":"#000"},{"offset":0.62,"color":"rgba(0,0,0,0)"},{"offset":1,"color":"rgba(0,0,0,0)"}
      ]}},
      "encoding": {"xOffset": {"field": "g", "type": "nominal"}, "y": {"field": "v", "type": "quantitative", "title": "Viscosity, cP"}, "y2": {"datum": 11}}},
     {"mark": {"type": "rule", "color": "#8a8a8a", "strokeWidth": 1.5},
      "encoding": {"xOffset": {"field": "g", "type": "nominal"}, "y": {"field": "lo", "type": "quantitative", "title": "Viscosity, cP"}, "y2": {"field": "hi"}}},
     {"mark": {"type": "tick", "orient": "horizontal", "size": 9, "thickness": 1.5, "color": "#8a8a8a"},
      "encoding": {"xOffset": {"field": "g", "type": "nominal"}, "y": {"field": "lo", "type": "quantitative", "title": "Viscosity, cP"}}},
     {"mark": {"type": "tick", "orient": "horizontal", "size": 9, "thickness": 1.5, "color": "#8a8a8a"},
      "encoding": {"xOffset": {"field": "g", "type": "nominal"}, "y": {"field": "hi", "type": "quantitative", "title": "Viscosity, cP"}}},
     {"transform": [{"filter": "datum.g == '10' && (datum.c == '12-0.1' || datum.c == '14-0.1')"}], "mark": {"type": "rule", "color": "#000", "strokeWidth": 1.5, "y2Offset": 133},
      "encoding": {"x": {"field": "c", "type": "nominal", "bandPosition": 0}, "y": {"datum": 11}, "y2": {"datum": 11}}},
     {"transform": [{"filter": "datum.g == '10' && datum.c == '10-0.1'"}], "mark": {"type": "rule", "color": "#000", "strokeWidth": 1.5, "y2Offset": 181},
      "encoding": {"x": {"field": "c", "type": "nominal", "bandPosition": 0}, "y": {"datum": 11}, "y2": {"datum": 11}}},
     {"transform": [{"filter": "datum.g == '10' && datum.c == '14-0.3'"}], "mark": {"type": "rule", "color": "#000", "strokeWidth": 1.5, "y2Offset": 181},
      "encoding": {"x": {"field": "c", "type": "nominal", "bandPosition": 1}, "y": {"datum": 11}, "y2": {"datum": 11}}},
     {"transform": [{"filter": "datum.g == '12' && indexof(datum.c, '-0.2') > 0"}], "mark": {"type": "text", "dy": 121},
      "encoding": {"xOffset": {"field": "g", "type": "nominal"}, "y": {"datum": 11}, "text": {"field": "t"}}},
     {"data": {"values": [{"s": "TSS (⁰bx)"}]}, "mark": {"type": "text", "dy": 168},
      "encoding": {"x": {"datum": "12-0.2"}, "y": {"datum": 11}, "text": {"field": "s"}}},
     {"data": {"values": [{"s": "(c)"}]}, "mark": {"type": "text", "dx": 16, "fontSize": 25, "fontWeight": "bold"},
      "encoding": {"x": {"datum": "10-0.1"}, "y": {"datum": 14}, "text": {"field": "s"}}}
  ]
 }
]
}
